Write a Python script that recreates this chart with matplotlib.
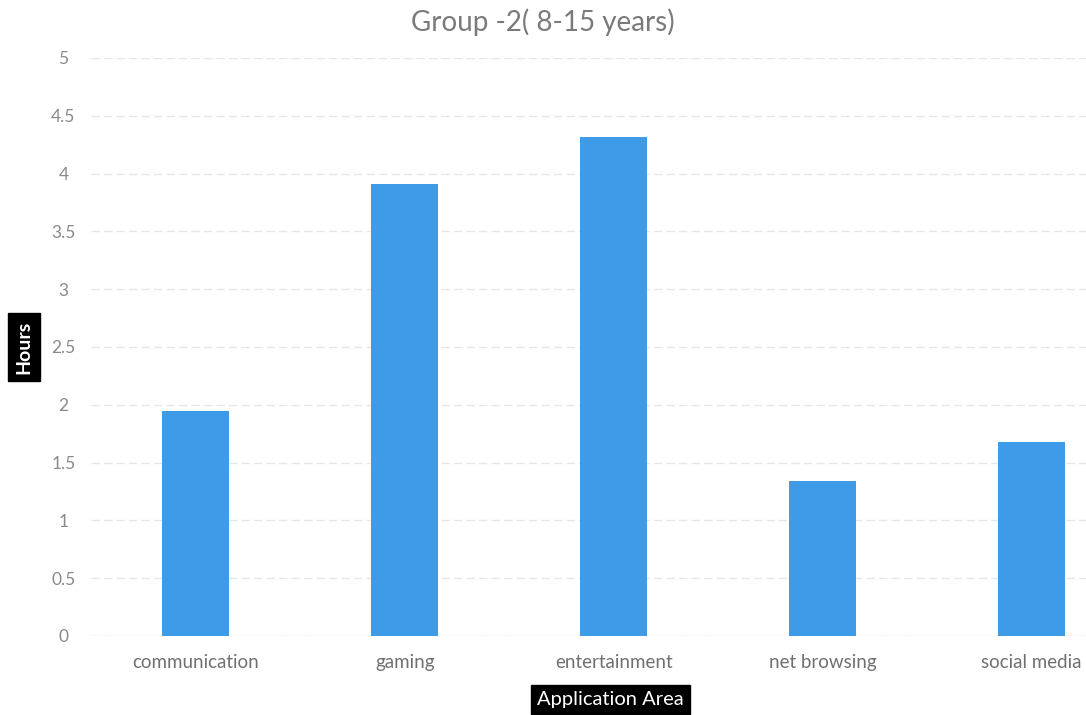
import matplotlib.pyplot as plt

categories = ["communication", "gaming", "entertainment", "net browsing", "social media"]
hours = [1.95, 3.91, 4.32, 1.34, 1.68]
yticks = [0, 0.5, 1, 1.5, 2, 2.5, 3, 3.5, 4, 4.5, 5]

plt.rcParams['font.family'] = ['Lato', 'DejaVu Sans']

fig = plt.figure(figsize=(10.86, 7.15), dpi=100)
ax = fig.add_axes([0.084, 0.1105, 0.916, 0.8085])

x = range(len(categories))
ax.bar(x, hours, width=0.32, color="#3E9BE8", zorder=3)

ax.set_xlim(-0.5, 4.26)
ax.set_ylim(0, 5)
ax.set_yticks(yticks)
ax.set_yticklabels([f"{t:g}" for t in yticks], color="#8a8a8a", fontsize=12.5)
for lbl in ax.get_yticklabels():
    lbl.set_horizontalalignment("center")
ax.set_xticks(list(x))
ax.set_xticklabels(categories, color="#707070", fontsize=13.5)
ax.tick_params(axis="x", length=0, pad=13)
ax.tick_params(axis="y", length=0, pad=20)
ax.grid(axis="y", color="#e6e6e6", linewidth=1, linestyle=(0, (6, 3)), zorder=0)
for s in ax.spines.values():
    s.set_visible(False)
ax.axhline(0, color="#e0e0e0", linewidth=1, zorder=1)

fig.suptitle("Group -2( 8-15 years)", color="#7a7a7a", fontsize=20, x=0.5, y=0.988)

# подписи осей в чёрных плашках
ax.set_ylabel("Hours", color="white", fontsize=14, fontweight="bold",
              bbox=dict(facecolor="black", edgecolor="black", boxstyle="square,pad=0.4"))
ax.yaxis.set_label_coords(-0.059, 0.5)
ax.set_xlabel("Application Area", color="white", fontsize=14.5,
              bbox=dict(facecolor="black", edgecolor="black", boxstyle="square,pad=0.3"))
ax.xaxis.set_label_coords(0.522, -0.095)

fig.savefig("out.png", dpi=100, facecolor="white")
